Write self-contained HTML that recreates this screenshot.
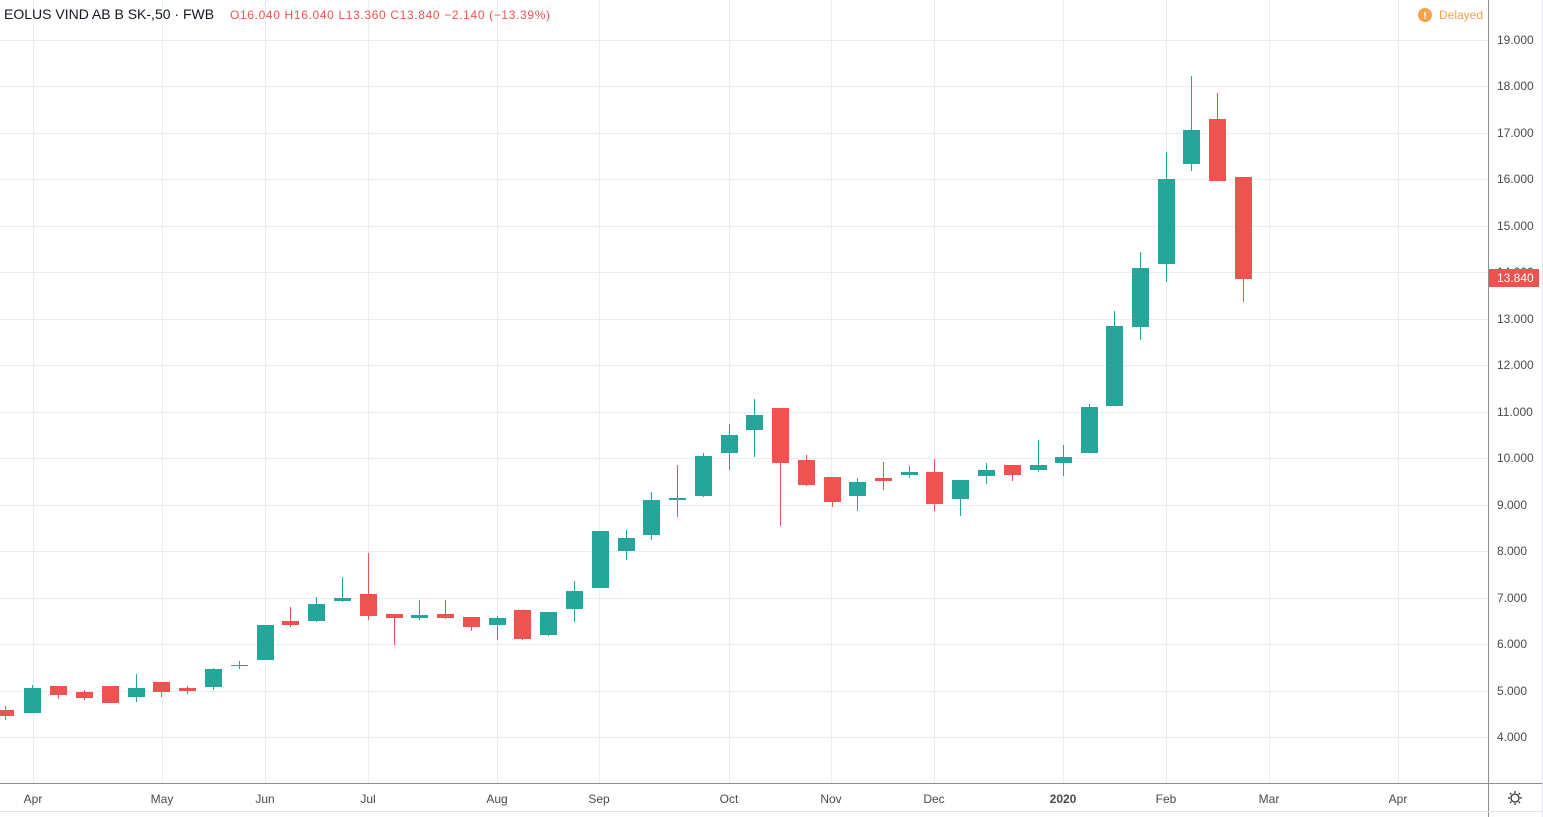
<!DOCTYPE html>
<html><head><meta charset="utf-8"><style>
html,body{margin:0;padding:0;background:#fff;}
svg{display:block;font-family:"Liberation Sans",Arial,sans-serif;}
</style></head><body>
<svg width="1543" height="817" viewBox="0 0 1543 817" xmlns="http://www.w3.org/2000/svg">
<rect width="1543" height="817" fill="#fff"/>
<g stroke="#e8eef5" stroke-width="1">
<line x1="0" x2="1488" y1="40.5" y2="40.5"/><line x1="0" x2="1488" y1="86.5" y2="86.5"/><line x1="0" x2="1488" y1="133.5" y2="133.5"/><line x1="0" x2="1488" y1="179.5" y2="179.5"/><line x1="0" x2="1488" y1="226.5" y2="226.5"/><line x1="0" x2="1488" y1="272.5" y2="272.5"/><line x1="0" x2="1488" y1="319.5" y2="319.5"/><line x1="0" x2="1488" y1="365.5" y2="365.5"/><line x1="0" x2="1488" y1="412.5" y2="412.5"/><line x1="0" x2="1488" y1="458.5" y2="458.5"/><line x1="0" x2="1488" y1="505.5" y2="505.5"/><line x1="0" x2="1488" y1="551.5" y2="551.5"/><line x1="0" x2="1488" y1="598.5" y2="598.5"/><line x1="0" x2="1488" y1="644.5" y2="644.5"/><line x1="0" x2="1488" y1="691.5" y2="691.5"/><line x1="0" x2="1488" y1="737.5" y2="737.5"/>
<line y1="0" y2="783" x1="33.5" x2="33.5"/><line y1="0" y2="783" x1="162.5" x2="162.5"/><line y1="0" y2="783" x1="265.5" x2="265.5"/><line y1="0" y2="783" x1="368.5" x2="368.5"/><line y1="0" y2="783" x1="497.5" x2="497.5"/><line y1="0" y2="783" x1="599.5" x2="599.5"/><line y1="0" y2="783" x1="729.5" x2="729.5"/><line y1="0" y2="783" x1="831.5" x2="831.5"/><line y1="0" y2="783" x1="934.5" x2="934.5"/><line y1="0" y2="783" x1="1063.5" x2="1063.5"/><line y1="0" y2="783" x1="1166.5" x2="1166.5"/><line y1="0" y2="783" x1="1269.5" x2="1269.5"/><line y1="0" y2="783" x1="1398.5" x2="1398.5"/>
</g>
<line x1="1488.5" x2="1488.5" y1="0" y2="817" stroke="#8a8f99"/>
<line x1="0" x2="1543" y1="783.5" y2="783.5" stroke="#8a8f99"/>
<line x1="0" x2="1543" y1="811.5" y2="811.5" stroke="#e0e3eb"/>
<line x1="1542.5" x2="1542.5" y1="0" y2="817" stroke="#e0e3eb"/>
<g stroke="#ef5350" fill="#ef5350">
<line x1="5.5" x2="5.5" y1="706" y2="720"/><rect x="-3" y="710" width="17" height="6" stroke="none"/>
<line x1="58.5" x2="58.5" y1="686" y2="699"/><rect x="50" y="686" width="17" height="9" stroke="none"/>
<line x1="84.5" x2="84.5" y1="690" y2="700"/><rect x="76" y="692" width="17" height="6" stroke="none"/>
<line x1="110.5" x2="110.5" y1="686" y2="703"/><rect x="102" y="686" width="17" height="17" stroke="none"/>
<line x1="161.5" x2="161.5" y1="682" y2="697"/><rect x="153" y="682" width="17" height="10" stroke="none"/>
<line x1="187.5" x2="187.5" y1="686" y2="694"/><rect x="179" y="688" width="17" height="3" stroke="none"/>
<line x1="290.5" x2="290.5" y1="607" y2="627"/><rect x="282" y="621" width="17" height="4" stroke="none"/>
<line x1="368.5" x2="368.5" y1="553" y2="620"/><rect x="360" y="594" width="17" height="22" stroke="none"/>
<line x1="394.5" x2="394.5" y1="614" y2="645"/><rect x="386" y="614" width="17" height="4" stroke="none"/>
<line x1="445.5" x2="445.5" y1="600" y2="619"/><rect x="437" y="614" width="17" height="4" stroke="none"/>
<line x1="471.5" x2="471.5" y1="617" y2="631"/><rect x="463" y="617" width="17" height="10" stroke="none"/>
<line x1="522.5" x2="522.5" y1="610" y2="640"/><rect x="514" y="610" width="17" height="29" stroke="none"/>
<line x1="780.5" x2="780.5" y1="408" y2="526"/><rect x="772" y="408" width="17" height="55" stroke="none"/>
<line x1="806.5" x2="806.5" y1="455" y2="486"/><rect x="798" y="460" width="17" height="25" stroke="none"/>
<line x1="832.5" x2="832.5" y1="477" y2="507"/><rect x="824" y="477" width="17" height="25" stroke="none"/>
<line x1="883.5" x2="883.5" y1="462" y2="490"/><rect x="875" y="478" width="17" height="3" stroke="none"/>
<line x1="934.5" x2="934.5" y1="459" y2="511"/><rect x="926" y="472" width="17" height="32" stroke="none"/>
<line x1="1012.5" x2="1012.5" y1="465" y2="481"/><rect x="1004" y="465" width="17" height="10" stroke="none"/>
<line x1="1217.5" x2="1217.5" y1="93" y2="181"/><rect x="1209" y="119" width="17" height="62" stroke="none"/>
<line x1="1243.5" x2="1243.5" y1="177" y2="302"/><rect x="1235" y="177" width="17" height="102" stroke="none"/>
</g>
<g stroke="#26a69a" fill="#26a69a">
<line x1="32.5" x2="32.5" y1="685" y2="713"/><rect x="24" y="688" width="17" height="25" stroke="none"/>
<line x1="136.5" x2="136.5" y1="674" y2="702"/><rect x="128" y="688" width="17" height="9" stroke="none"/>
<line x1="213.5" x2="213.5" y1="668" y2="690"/><rect x="205" y="669" width="17" height="18" stroke="none"/>
<line x1="239.5" x2="239.5" y1="661" y2="669"/><rect x="231" y="665" width="17" height="1" stroke="none"/>
<line x1="265.5" x2="265.5" y1="625" y2="660"/><rect x="257" y="625" width="17" height="35" stroke="none"/>
<line x1="316.5" x2="316.5" y1="597" y2="622"/><rect x="308" y="604" width="17" height="17" stroke="none"/>
<line x1="342.5" x2="342.5" y1="577" y2="602"/><rect x="334" y="598" width="17" height="3" stroke="none"/>
<line x1="419.5" x2="419.5" y1="600" y2="620"/><rect x="411" y="615" width="17" height="3" stroke="none"/>
<line x1="497.5" x2="497.5" y1="616" y2="640"/><rect x="489" y="618" width="17" height="7" stroke="none"/>
<line x1="548.5" x2="548.5" y1="612" y2="636"/><rect x="540" y="612" width="17" height="23" stroke="none"/>
<line x1="574.5" x2="574.5" y1="581" y2="622"/><rect x="566" y="591" width="17" height="18" stroke="none"/>
<line x1="600.5" x2="600.5" y1="531" y2="588"/><rect x="592" y="531" width="17" height="57" stroke="none"/>
<line x1="626.5" x2="626.5" y1="530" y2="560"/><rect x="618" y="538" width="17" height="13" stroke="none"/>
<line x1="651.5" x2="651.5" y1="492" y2="540"/><rect x="643" y="500" width="17" height="35" stroke="none"/>
<line x1="677.5" x2="677.5" y1="465" y2="517"/><rect x="669" y="498" width="17" height="2" stroke="none"/>
<line x1="703.5" x2="703.5" y1="453" y2="497"/><rect x="695" y="456" width="17" height="40" stroke="none"/>
<line x1="729.5" x2="729.5" y1="424" y2="470"/><rect x="721" y="435" width="17" height="18" stroke="none"/>
<line x1="754.5" x2="754.5" y1="399" y2="457"/><rect x="746" y="415" width="17" height="15" stroke="none"/>
<line x1="857.5" x2="857.5" y1="478" y2="511"/><rect x="849" y="482" width="17" height="14" stroke="none"/>
<line x1="909.5" x2="909.5" y1="466" y2="478"/><rect x="901" y="472" width="17" height="3" stroke="none"/>
<line x1="960.5" x2="960.5" y1="480" y2="516"/><rect x="952" y="480" width="17" height="19" stroke="none"/>
<line x1="986.5" x2="986.5" y1="463" y2="484"/><rect x="978" y="470" width="17" height="6" stroke="none"/>
<line x1="1038.5" x2="1038.5" y1="440" y2="472"/><rect x="1030" y="465" width="17" height="5" stroke="none"/>
<line x1="1063.5" x2="1063.5" y1="445" y2="476"/><rect x="1055" y="457" width="17" height="6" stroke="none"/>
<line x1="1089.5" x2="1089.5" y1="404" y2="453"/><rect x="1081" y="407" width="17" height="46" stroke="none"/>
<line x1="1114.5" x2="1114.5" y1="311" y2="406"/><rect x="1106" y="326" width="17" height="80" stroke="none"/>
<line x1="1140.5" x2="1140.5" y1="252" y2="340"/><rect x="1132" y="268" width="17" height="59" stroke="none"/>
<line x1="1166.5" x2="1166.5" y1="152" y2="282"/><rect x="1158" y="179" width="17" height="85" stroke="none"/>
<line x1="1191.5" x2="1191.5" y1="76" y2="171"/><rect x="1183" y="130" width="17" height="34" stroke="none"/>
</g>
<g font-size="12" fill="#4a4a4a">
<text x="1497" y="44">19.000</text><text x="1497" y="90">18.000</text><text x="1497" y="137">17.000</text><text x="1497" y="183">16.000</text><text x="1497" y="230">15.000</text><text x="1497" y="276">14.000</text><text x="1497" y="323">13.000</text><text x="1497" y="369">12.000</text><text x="1497" y="416">11.000</text><text x="1497" y="462">10.000</text><text x="1497" y="509">9.000</text><text x="1497" y="555">8.000</text><text x="1497" y="602">7.000</text><text x="1497" y="648">6.000</text><text x="1497" y="695">5.000</text><text x="1497" y="741">4.000</text>
</g>
<rect x="1489" y="269" width="50" height="18" fill="#ef5350"/>
<text x="1497" y="282" font-size="12" fill="#fff">13.840</text>
<g font-size="12" fill="#4a4a4a" text-anchor="middle">
<text x="33" y="803">Apr</text><text x="162" y="803">May</text><text x="265" y="803">Jun</text><text x="368" y="803">Jul</text><text x="497" y="803">Aug</text><text x="599" y="803">Sep</text><text x="729" y="803">Oct</text><text x="831" y="803">Nov</text><text x="934" y="803">Dec</text><text x="1063" y="803" font-weight="bold">2020</text><text x="1166" y="803">Feb</text><text x="1269" y="803">Mar</text><text x="1398" y="803">Apr</text>
</g>
<g transform="translate(1515,798)" fill="none" stroke="#333" stroke-width="1.3"><circle r="4"/><path d="M0-7V-5M0 5V7M-7 0H-5M5 0H7M-5-5L-3.6-3.6M3.6 3.6L5 5M-5 5L-3.6 3.6M3.6-3.6L5-5"/></g>
<text x="4" y="19" font-size="14" fill="#131722">EOLUS VIND AB B SK-,50 · FWB</text>
<text x="230" y="19" font-size="12" fill="#ef5350" textLength="320" lengthAdjust="spacing">O16.040 H16.040 L13.360 C13.840 −2.140 (−13.39%)</text>
<circle cx="1425" cy="15" r="7" fill="#f7a24a"/><text x="1425" y="19" font-size="10" fill="#fff" text-anchor="middle" font-weight="bold">!</text>
<text x="1439" y="19" font-size="12" fill="#f7a24a">Delayed</text>
</svg>
</body></html>
